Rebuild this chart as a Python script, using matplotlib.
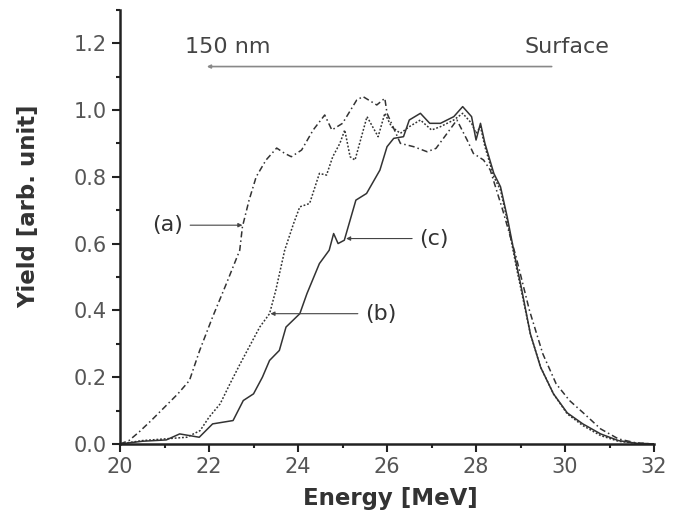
import matplotlib.pyplot as plt
from matplotlib.ticker import MultipleLocator

plt.rcParams['font.family'] = ['DejaVu Sans']

# curve (a): dash-dot
a_E = [20.0, 20.2, 20.43, 20.7, 21.0, 21.3, 21.56, 21.79, 22.08, 22.39, 22.69,
       22.75, 22.9, 23.06, 23.28, 23.52, 23.7, 23.85, 24.08, 24.34, 24.6, 24.76,
       25.0, 25.32, 25.46, 25.77, 25.95, 26.0, 26.3, 26.6, 26.9, 27.1, 27.35,
       27.57, 27.8, 27.94, 28.17, 28.32, 28.6, 28.9, 29.2, 29.5, 29.8, 30.1,
       30.41, 30.8, 31.2, 31.6, 32.0]
a_Y = [0.0, 0.01, 0.036, 0.07, 0.11, 0.15, 0.19, 0.28, 0.38, 0.48, 0.58,
       0.65, 0.73, 0.80, 0.85, 0.886, 0.87, 0.86, 0.88, 0.94, 0.985, 0.94,
       0.96, 1.03, 1.04, 1.015, 1.035, 0.99, 0.90, 0.89, 0.875, 0.885, 0.93,
       0.97, 0.91, 0.87, 0.85, 0.82, 0.70, 0.56, 0.40, 0.27, 0.18, 0.13,
       0.093, 0.045, 0.015, 0.003, 0.0]

# curve (b): dotted
b_E = [20.0, 20.5, 21.0, 21.5, 21.8, 22.0, 22.25, 22.47, 22.7, 22.98, 23.14,
       23.36, 23.5, 23.7, 23.9, 24.04, 24.26, 24.48, 24.64, 24.78, 24.94, 25.05,
       25.17, 25.28, 25.55, 25.8, 25.95, 26.1, 26.3, 26.5, 26.75, 27.0, 27.2,
       27.5, 27.7, 27.9, 28.0, 28.1, 28.2, 28.4, 28.55, 28.7, 28.92, 29.0,
       29.22, 29.45, 29.74, 30.05, 30.4, 30.8, 31.2, 31.6, 32.0]
b_Y = [0.0, 0.01, 0.015, 0.02, 0.04, 0.08, 0.12, 0.18, 0.24, 0.31, 0.35,
       0.39, 0.46, 0.58, 0.66, 0.71, 0.72, 0.81, 0.805, 0.86, 0.90, 0.94,
       0.86, 0.85, 0.98, 0.92, 0.99, 0.95, 0.93, 0.95, 0.97, 0.94, 0.95,
       0.97, 0.99, 0.96, 0.93, 0.95, 0.89, 0.80, 0.76, 0.67, 0.52, 0.47,
       0.33, 0.23, 0.15, 0.09, 0.055, 0.025, 0.008, 0.002, 0.0]

# curve (c): solid
c_E = [20.0, 20.5, 21.04, 21.34, 21.78, 22.08, 22.54, 22.77, 23.0, 23.2,
       23.36, 23.58, 23.73, 24.04, 24.2, 24.48, 24.7, 24.8, 24.9, 25.04, 25.3,
       25.54, 25.84, 26.0, 26.15, 26.37, 26.5, 26.75, 26.96, 27.2, 27.5, 27.7,
       27.9, 28.0, 28.1, 28.2, 28.4, 28.55, 28.7, 28.92, 29.0, 29.22, 29.45,
       29.74, 30.05, 30.4, 30.8, 31.2, 31.6, 32.0]
c_Y = [0.0, 0.008, 0.012, 0.03, 0.02, 0.06, 0.07, 0.13, 0.15, 0.20,
       0.25, 0.28, 0.35, 0.39, 0.45, 0.54, 0.58, 0.63, 0.60, 0.61, 0.73,
       0.75, 0.82, 0.89, 0.915, 0.92, 0.97, 0.99, 0.96, 0.96, 0.98, 1.01,
       0.98, 0.91, 0.96, 0.90, 0.81, 0.77, 0.68, 0.53, 0.48, 0.33, 0.23,
       0.15, 0.093, 0.06, 0.03, 0.01, 0.002, 0.0]

col = '#333333'
fig = plt.figure(figsize=(6.82, 5.15), dpi=100)
ax = fig.add_axes([0.176, 0.138, 0.783, 0.843])

ax.plot(a_E, a_Y, color=col, lw=1.1, ls=(0, (4, 2, 1, 2)))
ax.plot(b_E, b_Y, color=col, lw=1.1, ls=(0, (1.2, 1.2)))
ax.plot(c_E, c_Y, color=col, lw=1.1, ls='-')

ax.set_xlim(20, 32)
ax.set_ylim(0, 1.3)
ax.xaxis.set_major_locator(MultipleLocator(2))
ax.xaxis.set_minor_locator(MultipleLocator(1))
ax.yaxis.set_major_locator(MultipleLocator(0.2))
ax.yaxis.set_minor_locator(MultipleLocator(0.1))
ax.yaxis.set_major_formatter(plt.FormatStrFormatter('%.1f'))
for s in ['top', 'right']:
    ax.spines[s].set_visible(False)
for s in ['left', 'bottom']:
    ax.spines[s].set_linewidth(1.8)
    ax.spines[s].set_color('#222222')
ax.tick_params(which='major', direction='out', length=6, width=1.5,
               labelsize=15, colors='#222222', labelcolor='#555555')
ax.tick_params(which='minor', direction='out', length=3, width=1.5, colors='#222222')

ax.set_xlabel('Energy [MeV]', fontsize=16.5, fontweight='bold', color='#333333')
ax.set_ylabel('Yield [arb. unit]', fontsize=16.5, fontweight='bold', color='#333333')
ax.xaxis.set_label_coords(0.506, -0.1)
ax.yaxis.set_label_coords(-0.15, 0.548)

# depth arrow
ax.annotate('', xy=(21.95, 1.13), xytext=(29.7, 1.13),
            arrowprops=dict(arrowstyle='-|>', color='#888888', lw=1.2,
                            mutation_scale=5, shrinkA=0, shrinkB=0))
ax.text(21.45, 1.19, '150 nm', fontsize=16, color='#444444', ha='left', va='center')
ax.text(31.0, 1.19, 'Surface', fontsize=16, color='#444444', ha='right', va='center')

# curve labels
arrow = dict(arrowstyle='-|>', color='#444444', lw=0.8, mutation_scale=6,
             shrinkA=3, shrinkB=0)
ax.annotate('(a)', xy=(22.75, 0.655), xytext=(21.42, 0.655), fontsize=16,
            color='#333333', ha='right', va='center', arrowprops=arrow)
ax.annotate('(b)', xy=(23.38, 0.39), xytext=(25.5, 0.39), fontsize=16,
            color='#333333', ha='left', va='center', arrowprops=arrow)
ax.annotate('(c)', xy=(25.08, 0.615), xytext=(26.72, 0.615), fontsize=16,
            color='#333333', ha='left', va='center', arrowprops=arrow)

fig.savefig('out.png', dpi=100)
